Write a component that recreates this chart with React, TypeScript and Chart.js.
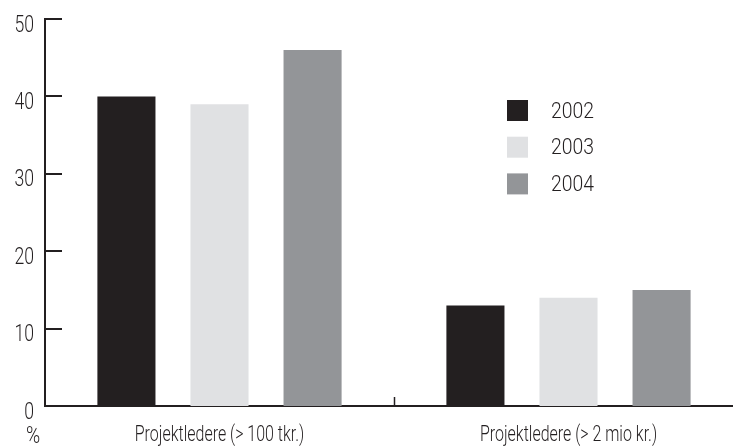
import React, { useEffect, useRef } from "react";
import { Chart, registerables } from "chart.js";

Chart.register(...registerables);

const categories = ["Projektledere (> 100 tkr.)", "Projektledere (> 2 mio kr.)"];
const seriesLabels = ["2002", "2003", "2004"];
const values2002 = [40, 13];
const values2003 = [39, 14];
const values2004 = [46, 15];
const yTicks = [0, 10, 20, 30, 40, 50];
const unitLabel = "%";

const colors = ["#231f20", "#e0e1e3", "#939598"];
const FONT = "Roboto, 'Liberation Sans', sans-serif";
const TEXT = "#231f20";

function drawText(ctx: CanvasRenderingContext2D, text: string, x: number, y: number, align: CanvasTextAlign, sx: number) {
  ctx.save();
  ctx.translate(x, y);
  ctx.scale(sx, 1);
  ctx.textAlign = align;
  ctx.textBaseline = "alphabetic";
  ctx.fillText(text, 0, 0);
  ctx.restore();
}

const overlayPlugin = {
  id: "overlay",
  afterDraw(chart: any) {
    const ctx = chart.ctx as CanvasRenderingContext2D;
    const y = chart.scales.y;
    const x = chart.scales.x;
    const area = chart.chartArea;
    ctx.save();
    ctx.strokeStyle = "#231f20";
    ctx.lineWidth = 2;
    // inward y ticks
    yTicks.forEach((v) => {
      if (v === 0) return;
      const py = Math.round(y.getPixelForValue(v));
      ctx.beginPath();
      ctx.moveTo(area.left, py);
      ctx.lineTo(area.left + 17, py);
      ctx.stroke();
    });
    // x tick between categories
    const mid = (x.getPixelForValue(0) + x.getPixelForValue(1)) / 2;
    ctx.lineWidth = 1.5;
    ctx.beginPath();
    ctx.moveTo(Math.round(mid) + 0.5, area.bottom);
    ctx.lineTo(Math.round(mid) + 0.5, area.bottom - 9);
    ctx.stroke();

    ctx.fillStyle = TEXT;
    ctx.font = `300 24.5px ${FONT}`;
    yTicks.forEach((v) => {
      const py = y.getPixelForValue(v);
      drawText(ctx, String(v), 34, py + 12.5, "right", 0.72);
    });
    ctx.font = `300 22.5px ${FONT}`;
    categories.forEach((c, i) => {
      drawText(ctx, c, x.getPixelForValue(i), 441, "center", 0.71);
    });
    ctx.font = `300 24px ${FONT}`;
    drawText(ctx, unitLabel, 33, 443, "center", 0.8);
    // legend
    ctx.font = `300 22px ${FONT}`;
    chart.data.datasets.forEach((ds: any, i: number) => {
      const top = 100 + i * 36.7;
      ctx.fillStyle = ds.backgroundColor;
      ctx.fillRect(507, top, 21, 21);
      ctx.fillStyle = TEXT;
      drawText(ctx, ds.label, 551, top + 17.5, "left", 0.88);
    });
    ctx.restore();
  },
};

export default function App() {
  const ref = useRef<HTMLCanvasElement>(null);
  useEffect(() => {
    if (!ref.current) return;
    const chart = new Chart(ref.current, {
      type: "bar",
      data: {
        labels: categories,
        datasets: [values2002, values2003, values2004].map((d, i) => ({
          label: seriesLabels[i],
          data: d,
          backgroundColor: colors[i],
          borderWidth: 0,
          categoryPercentage: 0.8,
          barPercentage: 0.624,
        })),
      },
      options: {
        animation: false,
        responsive: true,
        maintainAspectRatio: false,
        layout: { padding: { top: 19, right: 0, bottom: 0, left: 0 } },
        plugins: { legend: { display: false }, tooltip: { enabled: false } },
        scales: {
          x: {
            grid: { display: false, drawTicks: false },
            border: { display: true, color: "#231f20", width: 2 },
            ticks: { display: false },
            afterFit: (s: any) => { s.height = 40; },
          },
          y: {
            min: 0,
            max: 50,
            grid: { display: false, drawTicks: false },
            border: { display: true, color: "#231f20", width: 2 },
            afterBuildTicks: (s: any) => { s.ticks = yTicks.map((v) => ({ value: v })); },
            ticks: { display: false },
            afterFit: (s: any) => { s.width = 45; },
          },
        },
      },
      plugins: [overlayPlugin],
    });
    return () => chart.destroy();
  }, []);
  return (
    <div style={{ position: "fixed", left: 0, top: 0, width: 733, height: 446, overflow: "hidden", background: "#fff" }}>
      <div style={{ width: 743, height: 446 }}>
        <canvas ref={ref} />
      </div>
    </div>
  );
}
